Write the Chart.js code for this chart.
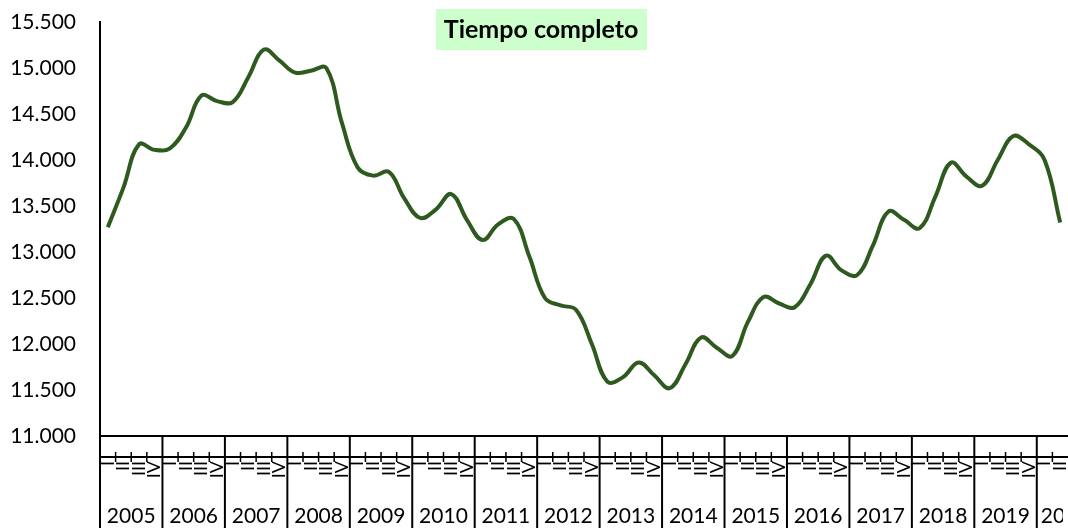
<!DOCTYPE html>
<html>
<head>
<meta charset="utf-8">
<script src="https://cdn.jsdelivr.net/npm/chart.js@4/dist/chart.umd.min.js"></script>
<style>
  html, body { margin: 0; padding: 0; background: #fff; }
  #wrap { width: 1068px; height: 528px; position: relative; }
</style>
</head>
<body>
<div id="wrap"><canvas id="chart"></canvas></div>
<script>
// quarterly series, 2005-I .. 2020-II
const years = [2005, 2006, 2007, 2008, 2009, 2010, 2011, 2012, 2013, 2014, 2015, 2016, 2017, 2018, 2019, 2020];
const quarters = ['I', 'II', 'III', 'IV'];
const values = [
    13270, 13700, 14170, 14110,   // 2005
    14130, 14350, 14700, 14640,   // 2006
    14630, 14900, 15200, 15080,   // 2007
    14950, 14970, 15000, 14400,   // 2008
    13920, 13830, 13870, 13580,   // 2009
    13370, 13460, 13630, 13350,   // 2010
    13130, 13300, 13360, 12950,   // 2011
    12500, 12420, 12370, 12000,   // 2012
    11590, 11640, 11800, 11660,   // 2013
    11520, 11780, 12070, 11960,   // 2014
    11870, 12240, 12510, 12440,   // 2015
    12400, 12650, 12960, 12800,   // 2016
    12750, 13070, 13440, 13350,   // 2017
    13260, 13600, 13970, 13820,   // 2018
    13720, 14000, 14260, 14170,   // 2019
    14000, 13320                  // 2020
];
const yTicks = [11000, 11500, 12000, 12500, 13000, 13500, 14000, 14500, 15000, 15500];
const title = 'Tiempo completo';

const labels = years.flatMap(y => quarters.map(q => y + ' ' + q)).slice(0, values.length);

const FONT = 'Lato, "Open Sans", sans-serif';

// draws the two-level category band (quarters + years) and the title box
const bandPlugin = {
    id: 'band',
    afterDraw(chart) {
        const ctx = chart.ctx;
        const xs = chart.scales.x;
        const area = chart.chartArea;
        const H = chart.height;
        const half = (xs.getPixelForValue(1) - xs.getPixelForValue(0)) / 2;
        const midY = area.bottom + 21;

        ctx.save();
        ctx.strokeStyle = '#000';
        ctx.fillStyle = '#000';
        ctx.lineWidth = 2;

        // second level line
        ctx.beginPath();
        ctx.moveTo(area.left, midY);
        ctx.lineTo(area.right, midY);
        ctx.stroke();

        labels.forEach((lab, i) => {
            const cx = xs.getPixelForValue(i);
            const bx = cx - half;
            ctx.lineWidth = 2;
            ctx.beginPath();
            if (i % 4 === 0) {
                ctx.moveTo(bx, area.bottom);
                ctx.lineTo(bx, H);
            } else {
                ctx.lineWidth = 1.5;
                ctx.moveTo(bx, midY - 5);
                ctx.lineTo(bx, midY + 5);
            }
            ctx.stroke();

            // rotated quarter label
            ctx.save();
            ctx.translate(cx, midY + 4);
            ctx.rotate(-Math.PI / 2);
            ctx.font = '18px ' + FONT;
            ctx.textAlign = 'right';
            ctx.textBaseline = 'middle';
            ctx.fillText(quarters[i % 4], 0, 0);
            ctx.restore();
        });

        // year labels
        ctx.font = '21px ' + FONT;
        ctx.textBaseline = 'middle';
        years.forEach((y, k) => {
            const first = k * 4;
            if (first >= labels.length) return;
            const last = Math.min(first + 3, labels.length - 1);
            const left = xs.getPixelForValue(first) - half;
            const right = Math.min(xs.getPixelForValue(last) + half, area.right);
            const txt = String(y);
            const w = ctx.measureText(txt).width;
            ctx.save();
            ctx.beginPath();
            if (w < right - left - 4) {
                ctx.textAlign = 'center';
                ctx.fillText(txt, (left + right) / 2, H - 12);
            } else {
                ctx.rect(left + 1, area.bottom, right - left - 6, H - area.bottom);
                ctx.clip();
                ctx.textAlign = 'left';
                ctx.fillText(txt, left + 4, H - 12);
            }
            ctx.restore();
        });

        // title box
        ctx.font = 'bold 25px ' + FONT;
        const tcx = 541, tcy = 30;
        ctx.fillStyle = '#ccffcc';
        ctx.fillRect(436, 9, 211, 41);
        ctx.fillStyle = '#000';
        ctx.textAlign = 'center';
        ctx.textBaseline = 'middle';
        ctx.fillText(title, tcx, tcy);
        ctx.restore();
    }
};

new Chart(document.getElementById('chart'), {
    type: 'line',
    data: {
        labels: labels,
        datasets: [{
            label: title,
            data: values,
            borderColor: '#2e5a1f',
            borderWidth: 4,
            pointRadius: 0,
            tension: 0.4,
            fill: false
        }]
    },
    options: {
        responsive: true,
        maintainAspectRatio: false,
        animation: false,
        layout: { padding: { top: 22, right: 0, left: 0, bottom: 0 } },
        plugins: {
            legend: { display: false },
            tooltip: { enabled: false },
            title: { display: false }
        },
        scales: {
            x: {
                offset: true,
                grid: { display: false },
                border: { display: true, color: '#000', width: 2 },
                ticks: { display: false },
                afterFit: function(scale) { scale.height = 92; }
            },
            y: {
                min: 11000,
                max: 15500,
                grid: { display: false },
                border: { display: true, color: '#000', width: 2 },
                afterBuildTicks: function(scale) {
                    scale.ticks = yTicks.map(v => ({ value: v }));
                },
                afterFit: function(scale) {
                    scale.width = 100;
                    scale.paddingTop = 0;
                    scale.paddingBottom = 0;
                },
                ticks: {
                    color: '#000',
                    padding: 16,
                    font: { family: FONT, size: 21 },
                    callback: function(value) {
                        return value.toLocaleString('de-DE');
                    }
                }
            }
        }
    },
    plugins: [bandPlugin]
});
</script>
</body>
</html>
